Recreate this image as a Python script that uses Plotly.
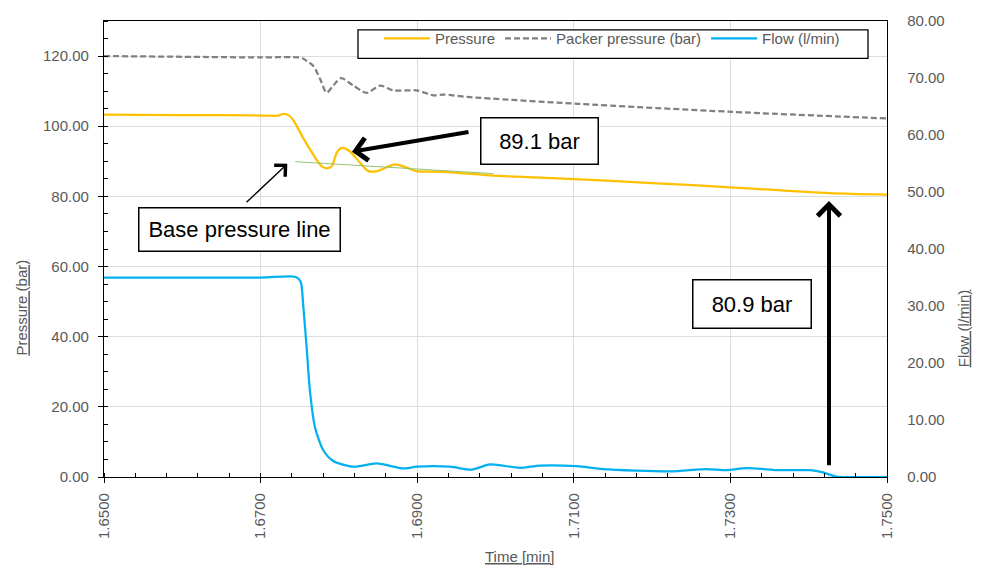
import plotly.graph_objects as go

# Time axis (min) and measured series
pressure_t = [1.6500, 1.6600, 1.6700, 1.6722, 1.6729, 1.6736, 1.67418, 1.67545, 1.67673,
              1.67780, 1.67844, 1.67908, 1.67972, 1.68036, 1.68142, 1.68270, 1.68375,
              1.68483, 1.68610, 1.68716, 1.68866, 1.68994, 1.69333, 1.69930, 1.7050,
              1.7101, 1.7200, 1.7300, 1.7426, 1.7500]
pressure_bar = [103.3, 103.2, 103.05, 103.0, 103.5, 103.1, 101.7, 96.6, 91.9,
                88.6, 88.0, 88.6, 92.4, 93.8, 92.8, 89.6, 87.2,
                87.2, 88.3, 89.1, 88.2, 87.2, 87.0, 86.0, 85.4,
                84.9, 83.8, 82.6, 80.9, 80.5]

packer_t = [1.6500, 1.6600, 1.6700, 1.6752, 1.67589, 1.67673, 1.67759, 1.67844, 1.67928,
            1.68027, 1.68184, 1.68355, 1.68525, 1.68695, 1.68994, 1.69206, 1.69333,
            1.69674, 1.7104, 1.7302, 1.7500]
packer_bar = [120.0, 119.8, 119.6, 119.5, 118.6, 117.2, 113.5, 109.6, 111.6,
              113.7, 111.6, 109.5, 111.6, 110.2, 110.2, 108.8, 109.0,
              108.3, 106.4, 104.1, 102.2]

flow_t = [1.6500, 1.6700, 1.6745, 1.67511, 1.67545, 1.67589, 1.67631, 1.67695, 1.67801,
          1.67928, 1.68184, 1.68483, 1.68822, 1.68994, 1.6942, 1.69696, 1.6993,
          1.70313, 1.70568, 1.71037, 1.71373, 1.72228, 1.72697, 1.72952, 1.73208,
          1.73633, 1.74017, 1.74183, 1.74357, 1.7450, 1.7500]
flow_lpm = [35.0, 35.0, 35.1, 34.3, 30.0, 22.5, 15.0, 8.7, 4.7,
            2.8, 1.8, 2.4, 1.5, 1.8, 1.8, 1.3, 2.2,
            1.6, 2.0, 1.9, 1.4, 1.0, 1.4, 1.2, 1.55,
            1.2, 1.2, 0.8, 0.05, 0.0, 0.0]

# Fitted base pressure line
base_t = [1.6744, 1.6997]
base_bar = [89.9, 86.5]

# Axis ticks
x_ticks = [1.65, 1.67, 1.69, 1.71, 1.73, 1.75]
p_ticks = [0, 20, 40, 60, 80, 100, 120]
f_ticks = [0, 10, 20, 30, 40, 50, 60, 70, 80]

# Callout values
peak_base_value = 89.1
end_pressure_value = 80.9

FONT = "Liberation Sans"
GREY = "#595959"

# Plot area in pixels (used for placing paper-referenced items)
PL, PR, PT, PB = 104, 887, 14, 477
PW, PH = PR - PL, PB - PT


def px_x(px):
    return (px - PL) / PW


def px_y(py):
    return (PB - py) / PH


fig = go.Figure()
fig.add_trace(go.Scatter(x=pressure_t, y=pressure_bar, name="Pressure", mode="lines",
                         line=dict(color="#FFC000", width=2.25, shape="spline", smoothing=0.8)))
fig.add_trace(go.Scatter(x=packer_t, y=packer_bar, name="Packer pressure (bar)", mode="lines",
                         line=dict(color="#808080", width=2.25, dash="6px,3px", shape="spline",
                                   smoothing=0.8)))
fig.add_trace(go.Scatter(x=flow_t, y=flow_lpm, name="Flow (l/min)", mode="lines", yaxis="y2",
                         line=dict(color="#00B0F0", width=2.25, shape="spline", smoothing=0.7)))
fig.add_trace(go.Scatter(x=base_t, y=base_bar, mode="lines", showlegend=False,
                         line=dict(color="#92C46E", width=1)))

axis_common = dict(showline=True, linecolor="black", linewidth=1.3,
                   tickfont=dict(family=FONT, size=15, color=GREY))

fig.update_layout(
    width=981, height=571,
    margin=dict(l=PL, r=981 - PR, t=PT, b=571 - PB),
    paper_bgcolor="white", plot_bgcolor="white",
    font=dict(family=FONT, size=15, color=GREY),
    xaxis=dict(range=[1.65, 1.75], tickvals=x_ticks, tickformat=".4f", tickangle=-90,
               ticks="outside", ticklen=5, tickcolor="black", mirror=True,
               showgrid=True, gridcolor="#DDDDDD", gridwidth=1, zeroline=False,
               minor=dict(dtick=0.004, tick0=1.65, ticks="inside", ticklen=4,
                          tickcolor="black", showgrid=False),
               ticklabelstandoff=4, **axis_common),
    yaxis=dict(range=[0, 130], tickvals=p_ticks, tickformat=".2f",
               ticks="outside", ticklen=5, tickcolor="black", mirror=True,
               showgrid=True, gridcolor="#DDDDDD", gridwidth=1, zeroline=False,
               minor=dict(dtick=5, tick0=0, ticks="inside", ticklen=4,
                          tickcolor="black", showgrid=False),
               ticklabelstandoff=6, **axis_common),
    yaxis2=dict(range=[0, 80], tickvals=f_ticks, tickformat=".2f", overlaying="y",
                side="right", ticks="", showgrid=False, zeroline=False,
                ticklabelstandoff=16, **axis_common),
    legend=dict(orientation="h", x=px_x(379), y=px_y(32),
                xanchor="left", yanchor="middle", bgcolor="rgba(0,0,0,0)",
                borderwidth=0, itemwidth=46,
                font=dict(family=FONT, size=15, color=GREY)),
    showlegend=True,
)

# Legend frame
fig.add_shape(type="rect", xref="paper", yref="paper",
              x0=px_x(358), x1=px_x(868), y0=px_y(52), y1=px_y(23),
              line=dict(color="black", width=1.3), fillcolor="white", layer="above")

# Axis titles
title_font = dict(family=FONT, size=15, color=GREY)
fig.add_annotation(text="<u>Pressure (bar)</u>", xref="paper", yref="paper",
                   x=px_x(22), y=px_y(305), textangle=-90,
                   showarrow=False, font=title_font, xanchor="center", yanchor="middle")
fig.add_annotation(text="<u>Flow (l/min)</u>", xref="paper", yref="paper",
                   x=px_x(963), y=px_y(326), textangle=-90,
                   showarrow=False, font=title_font, xanchor="center", yanchor="middle")
fig.add_annotation(text="<u>Time [min]</u>", xref="paper", yref="paper",
                   x=px_x(519), y=px_y(558),
                   showarrow=False, font=title_font, xanchor="center", yanchor="middle")

# Callout boxes
box_font = dict(family=FONT, size=22, color="black")
box_style = dict(showarrow=False, bgcolor="white", bordercolor="black", borderwidth=1.5,
                 borderpad=0, font=box_font, xref="x", yref="y")
fig.add_annotation(text=f"{peak_base_value} bar", x=1.70556, y=95.8,
                   width=116, height=45, **box_style)
fig.add_annotation(text="Base pressure line", x=1.66731, y=70.6,
                   width=200, height=42, **box_style)
fig.add_annotation(text=f"{end_pressure_value} bar", x=1.7328, y=49.3,
                   width=117, height=47, **box_style)

# Arrows
arrow_style = dict(text="", showarrow=True, xref="x", yref="y", axref="x", ayref="y",
                   arrowcolor="black")
fig.add_annotation(x=1.68167, y=92.75, ax=1.69674, ay=98.4, arrowhead=4,
                   arrowwidth=4, arrowsize=1.1, **arrow_style)
fig.add_annotation(x=1.74259, y=end_pressure_value - 2.2, ax=1.74259, ay=2.9,
                   arrowhead=4, arrowwidth=4, arrowsize=1.1, **arrow_style)
fig.add_annotation(x=1.67341, y=89.3, ax=1.66801, ay=77.9, arrowhead=4,
                   arrowwidth=1.4, arrowsize=2.2, **arrow_style)

fig.write_html("out.html")
